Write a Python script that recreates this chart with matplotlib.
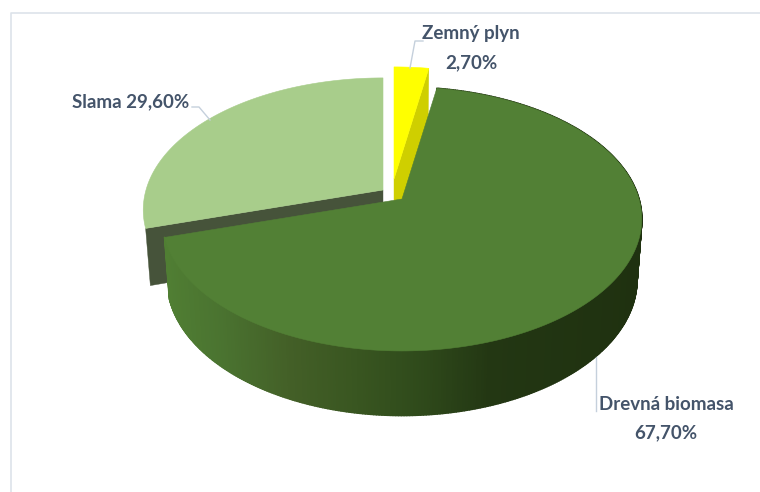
import numpy as np
import matplotlib
matplotlib.use("Agg")
import matplotlib.pyplot as plt
from matplotlib.collections import PolyCollection
from matplotlib.patches import Polygon

labels = ["Zemný plyn", "Drevná biomasa", "Slama"]
values = [2.7, 67.7, 29.6]
value_text = ["2,70%", "67,70%", "29,60%"]

TOP_COL = ["#ffff00", "#528035", "#a8cd8b"]
CUT_COL = ["#cfcf00", "#35531f", "#46533a"]
CENTERS = [(394, 179), (402, 199), (383, 190)]
DEPTHS = [60.0, 60.0, 56.0]
TXT = "#44546a"
LEAD = "#c5d0dc"

K, S, R = 0.151, 129.0, 237.0
SX, SY = 0.98, 1.03


def project(theta, center, depth=None):
    """theta: clockwise from 12 o'clock, degrees; perspective disc to pixels."""
    th = np.radians(theta)
    u, v = np.sin(th), np.cos(th)
    w = 1 + K * v
    dx, dy = R * u / w, -S * v / w
    if depth is not None:
        return center[0] + SX * dx, center[1] + depth + SY * dy
    return center[0] + dx, center[1] + dy


fig = plt.figure(figsize=(7.6, 4.92), dpi=100, facecolor="white")
ax = fig.add_axes([0, 0, 1, 1])
ax.set_xlim(0, 760)
ax.set_ylim(492, 0)
ax.axis("off")

ax.plot([10.5, 10.5, 760], [492, 12.5, 12.5], color="#dde3ea", lw=1.2)

edges = np.concatenate([[0], np.cumsum(values)]) / sum(values) * 360


def top_face(i, z):
    th = np.linspace(edges[i], edges[i + 1], 240)
    x, y = project(th, CENTERS[i])
    pts = np.column_stack([np.r_[CENTERS[i][0], x], np.r_[CENTERS[i][1], y]])
    ax.add_patch(Polygon(pts, closed=True, fc=TOP_COL[i], ec=TOP_COL[i], lw=0.4, zorder=z))


def cut_face(i, theta, z):
    c = CENTERS[i]
    xt, yt = project(theta, c)
    xb, yb = project(theta, c, depth=DEPTHS[i])
    ax.add_patch(Polygon([c, (xt, yt), (xb, yb), (c[0], c[1] + DEPTHS[i])], closed=True,
                         fc=CUT_COL[i], ec=CUT_COL[i], lw=0.3, zorder=z))


# Zemný plyn: far cut face, then top
cut_face(0, edges[1], 2)
top_face(0, 3)

# Slama: front cut face, then top
cut_face(2, edges[2], 2)
top_face(2, 3)

# Drevná biomasa: outer wall with horizontal shading, then top
th = np.linspace(edges[1], edges[2], 420)
c = CENTERS[1]
xt, yt = project(th, c)
xb, yb = project(th, c, depth=DEPTHS[1])
quads = [[(xt[j], yt[j]), (xt[j + 1], yt[j + 1]), (xb[j + 1], yb[j + 1]), (xb[j], yb[j])]
         for j in range(len(th) - 1)]
mid = (xt[:-1] + xt[1:]) / 2
stops_x = [165, 220, 290, 360, 420, 490, 640]
stops = np.array([matplotlib.colors.to_rgb(h) for h in
                  ["#507e33", "#4a7330", "#435f27", "#385520", "#2f4a1b", "#233713", "#1f3110"]])
cols = np.column_stack([np.interp(mid, stops_x, stops[:, k]) for k in range(3)])
ax.add_collection(PolyCollection(quads, facecolors=cols, edgecolors=cols, linewidths=1.2, zorder=6))
top_face(1, 7)

# leader lines
ax.plot([423, 415, 410], [41, 41, 68], color=LEAD, lw=1, zorder=8)
ax.plot([192, 199, 210], [107, 107, 120], color=LEAD, lw=1, zorder=8)
ax.plot([596, 596], [357, 411], color=LEAD, lw=1, zorder=8)

kw = dict(family="Lato", fontweight="bold", fontsize=13.5, color=TXT,
          va="center", zorder=9)
ax.text(471, 34, labels[0], ha="center", **kw)
ax.text(471, 63, value_text[0], ha="center", **kw)
ax.text(131, 102, f"{labels[2]} {value_text[2]}", ha="center", **kw)
ax.text(666, 404, labels[1], ha="center", **kw)
ax.text(666, 433, value_text[1], ha="center", **kw)

fig.savefig("out.png", dpi=100)
